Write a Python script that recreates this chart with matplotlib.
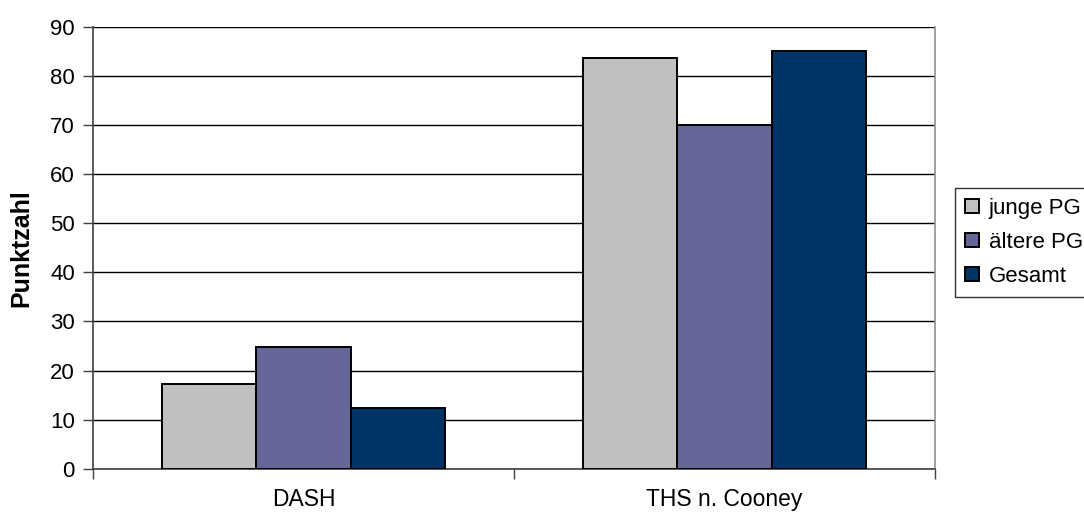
import numpy as np
import matplotlib.pyplot as plt

plt.rcParams['font.family'] = ['Liberation Sans', 'DejaVu Sans']

categories = ['DASH', 'THS n. Cooney']
series_names = ['junge PG', 'ältere PG', 'Gesamt']
junge = [17.3, 83.6]
aeltere = [24.7, 70.0]
gesamt = [12.3, 85.1]
colors = ['#C0C0C0', '#666699', '#003366']

fig = plt.figure(figsize=(10.84, 5.13), dpi=100)
ax = fig.add_axes([0.0858, 0.0864, 0.7767, 0.861])

x = np.arange(len(categories))
w = 0.2245
for i, (vals, name) in enumerate(zip([junge, aeltere, gesamt], series_names)):
    ax.bar(x + (i - 1) * w, vals, w, color=colors[i], edgecolor='black',
           linewidth=1.4, label=name, zorder=3)

ax.set_xlim(-0.5, 1.5)
ax.set_ylim(0, 90)
ax.set_yticks(range(0, 91, 10))
ax.yaxis.grid(True, color='black', linewidth=1.0, zorder=0)
ax.tick_params(axis='y', labelsize=16, length=7, width=1, color='#404040', pad=6)

# category boundaries get the tick marks, names sit between them
ax.set_xticks([-0.5, 0.5, 1.5])
ax.set_xticklabels([])
ax.set_xticks(x, minor=True)
ax.set_xticklabels(categories, minor=True)
ax.tick_params(axis='x', which='major', length=7, width=1, color='#404040')
ax.tick_params(axis='x', which='minor', length=0, labelsize=16.5, pad=14)

ax.spines['top'].set_visible(False)
ax.spines['left'].set_color('#404040')
ax.spines['bottom'].set_color('#404040')
ax.spines['right'].set_color('#909090')
for s in ax.spines.values():
    s.set_linewidth(1.2)

ax.set_ylabel('Punktzahl', fontsize=18, fontweight='bold', labelpad=12)

leg = fig.legend(loc='upper left', bbox_to_anchor=(955 / 1084, 1 - 188 / 513),
                 fontsize=16, frameon=True, fancybox=False, edgecolor='black',
                 handlelength=0.62, handleheight=0.62, handletextpad=0.45,
                 labelspacing=0.58, borderpad=0.45, borderaxespad=0)
leg.get_frame().set_linewidth(1.0)

fig.savefig('out.png', dpi=100)
